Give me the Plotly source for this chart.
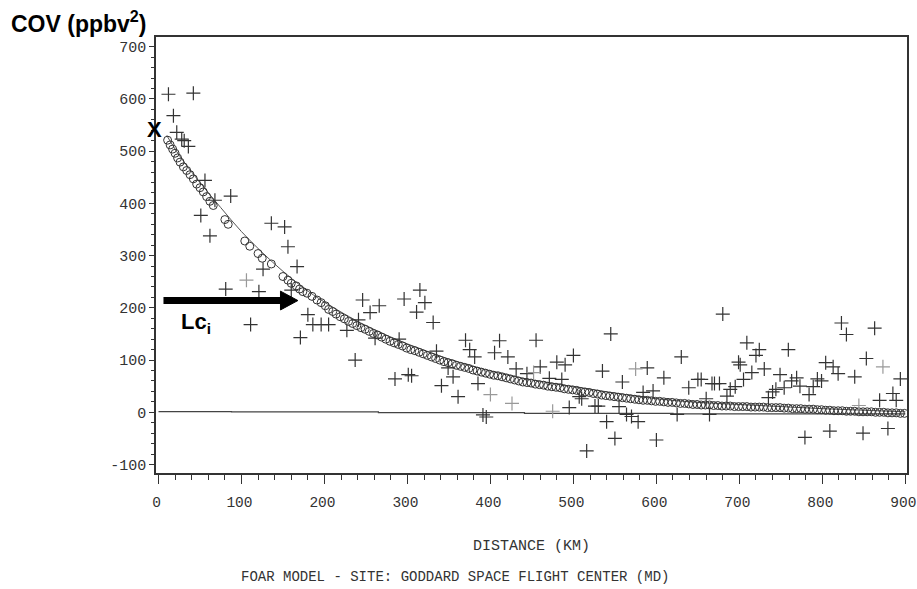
import plotly.graph_objects as go

# ---- observed covariance pairs (crosses) ----
obs_d = [12, 42, 18, 22, 28, 31, 36, 56, 68, 87, 51, 62, 136, 152, 156, 167, 126, 81, 121, 160,
         180, 186, 196, 205, 111, 171, 227, 241,
         246, 255, 266, 237, 285, 296, 315, 321, 311, 331, 261, 290, 301, 305, 335, 349, 355, 341,
         361, 370, 375, 381, 385, 411, 405, 421, 431, 391, 395,
         455, 460, 444, 471, 480, 490, 500, 486, 507, 510, 495, 516, 535, 545, 559, 526, 530, 540,
         550, 555, 564, 570, 578,
         589, 584, 596, 600, 609, 630, 639, 650, 654, 667, 625, 664, 660,
         670, 676, 680, 685, 689, 695, 699, 701, 709, 724, 720, 730, 715, 705, 735, 740, 744, 754,
         749, 759, 763, 769, 773, 784, 789, 794, 799, 779, 804, 813, 819, 809, 823, 829, 839, 853,
         863, 849, 869, 879, 885, 889, 894]
obs_v = [609, 611, 568, 536, 523, 520, 509, 444, 406, 414, 377, 338, 362, 355, 317, 279, 274, 236, 231, 234,
         187, 168, 168, 168, 168, 143, 157, 177,
         215, 191, 204, 100, 64, 217, 234, 210, 192, 172, 142, 140, 72, 70, 117, 85, 68, 51,
         30, 138, 120, 106, 55, 137, 114, 106, 83, -5, -9,
         138, 87, 74, 65, 96, 91, 109, 63, 30, 26, 9, -74, 79, 150, 58, 12, 12, -18,
         -50, 11, -4, -8, -18,
         85, 38, 41, -53, 66, 106, 47, 63, 63, 55, -4, -4, 26,
         55, 55, 188, 31, 44, 49, 96, 91, 133, 120, 109, 83, 76, 63, 28, 39, 44, 47,
         72, 120, 60, 66, 50, 34, 49, 64, 60, -48, 95, 87, 74, -36, 171, 149, 68, 103,
         161, -40, 23, -31, 36, 23, 64]

# fainter crosses
faint_d = [106, 400, 426, 452, 475, 575, 873, 844]
faint_v = [253, 34, 17, 76, 2, 83, 87, 13]

# ---- model values (open circles) ----
model_d = [11, 14, 17, 20, 23, 26, 30, 34, 38, 42, 46, 50, 54, 58, 62, 66, 80, 84, 104, 110,
           120, 125, 136, 150, 156, 160, 166, 170, 174, 179, 185, 191, 196, 201, 205, 210, 214, 219,
           224, 229, 234, 239, 244, 249, 254, 259, 264, 269, 274, 279, 284, 289, 294, 299,
           304, 309, 314, 319, 324, 329, 334, 339, 344, 349, 354, 359, 364, 369, 374, 379,
           384, 389, 394, 399, 404, 409, 414, 419, 424, 429, 434, 439, 444, 449, 454, 459,
           464, 469, 474, 479, 484, 489, 494, 499, 504, 509, 514, 519, 524, 529, 534, 539,
           544, 549, 554, 559, 564, 569, 574, 579, 584, 589, 594, 599, 604, 609, 614, 619,
           624, 629, 634, 639, 644, 649, 654, 659, 664, 669, 674, 679, 684, 689, 694, 699,
           704, 709, 714, 719, 724, 729, 734, 739, 744, 749, 754, 759, 764, 769, 774, 779,
           784, 789, 794, 799, 804, 809, 814, 819, 824, 829, 834, 839, 844, 849, 854, 859,
           864, 869, 874, 879, 884, 889, 894, 899]
model_v = [521, 512, 504, 496, 487, 479, 470, 463, 455, 447, 437, 430, 422, 413, 404, 396, 369, 360, 328, 318,
           304, 295, 284, 260, 253, 247, 242, 236, 231, 228, 222, 215, 210, 204, 197, 193, 188, 183,
           179, 174, 170, 166, 162, 159, 155, 151, 148, 144, 140, 136, 133, 130, 127, 123,
           120, 118, 115, 112, 109, 106, 103, 100, 97, 95, 93, 90, 88, 86, 84, 81,
           79, 77, 75, 73, 71, 70, 68, 66, 64, 62, 60, 58, 57, 56, 54, 53,
           52, 50, 49, 48, 47, 45, 44, 43, 42, 40, 39, 38, 36, 35, 33, 32,
           31, 30, 29, 28, 27, 26, 25, 24, 23, 23, 22, 21, 21, 20, 19, 19,
           18, 17, 17, 16, 15, 15, 14, 14, 14, 13, 13, 12, 12, 12, 11, 11,
           11, 11, 10, 10, 10, 10, 9, 9, 9, 9, 8, 8, 7, 7, 7, 6,
           6, 6, 5, 5, 4, 4, 3, 3, 3, 2, 2, 2, 1, 1, 1, 1,
           0, 0, 0, -1, -1, -1, -2, -2]

# ---- fitted curve ----
fit_d = [10, 25, 50, 75, 100, 125, 150, 175, 200, 250, 300, 350, 400, 450, 500, 550, 600, 650, 700, 750, 800, 850, 900]
fit_v = [530, 492, 440, 392, 346, 306, 270, 238, 211, 166, 131, 102, 79, 62, 49, 37, 26, 19, 15, 11, 7, 4, 1]

# ---- near-zero reference line ----
zero_d = [0, 88, 265, 441, 620, 900]
zero_v = [1.5, 1, -0.5, -2, -3, -3]

# ---- axis ticks ----
x_ticks = [0, 100, 200, 300, 400, 500, 600, 700, 800, 900]
x_labels = ["0", "100", "200", "300", "400", "500", "600", "700", "800", "900"]
y_ticks = [-100, 0, 100, 200, 300, 400, 500, 600, 700]
y_labels = ["-100", "0", "100", "200", "300", "400", "500", "600", "700"]

INK = "#333333"
MONO = "Liberation Mono"

fig = go.Figure()
fig.add_trace(go.Scatter(x=zero_d, y=zero_v, mode="lines", line=dict(color="#444444", width=1.2, shape="hv"),
                         showlegend=False, hoverinfo="skip"))
fig.add_trace(go.Scatter(x=fit_d, y=fit_v, mode="lines", line=dict(color="#555555", width=1, shape="spline"),
                         showlegend=False))
fig.add_trace(go.Scatter(x=model_d, y=model_v, mode="markers",
                         marker=dict(symbol="circle-open", size=8, color=INK, line=dict(width=1, color=INK)),
                         showlegend=False))
fig.add_trace(go.Scatter(x=obs_d, y=obs_v, mode="markers",
                         marker=dict(symbol="cross-thin", size=10, color=INK, line=dict(width=1.2, color=INK)),
                         showlegend=False))
fig.add_trace(go.Scatter(x=faint_d, y=faint_v, mode="markers",
                         marker=dict(symbol="cross-thin", size=10, color="#999999", line=dict(width=1.2, color="#999999")),
                         showlegend=False))

# arrow for Lc_i
fig.add_shape(type="line", xref="x", yref="y", x0=6, y0=214, x1=150, y1=214,
              line=dict(color="black", width=7))
fig.add_shape(type="path", xref="x", yref="y", path="M 147,196 L 168,214 L 147,232 Z",
              fillcolor="black", line=dict(color="black", width=1))

ax_common = dict(showline=True, linecolor=INK, linewidth=1.5, mirror=True, showgrid=False, zeroline=False,
                 automargin=False, ticklabeloverflow="allow",
                 ticks="outside", tickcolor=INK)

fig.update_xaxes(range=[-3, 902], tickvals=x_ticks, ticktext=x_labels, ticklen=9, tickwidth=1.2,
                 ticklabelstandoff=6, ticklabelshift=-2,
                 tickfont=dict(family=MONO, size=14.5, color=INK),
                 minor=dict(dtick=20, tick0=0, ticks="outside", ticklen=5, tickcolor=INK, tickwidth=1.2),
                 **ax_common)
fig.update_yaxes(range=[-116.2, 718.6], tickvals=y_ticks, ticktext=y_labels, ticklen=5, tickwidth=1.2,
                 tickfont=dict(family=MONO, size=15, color=INK),
                 minor=dict(dtick=20, tick0=0, ticks="outside", ticklen=3, tickcolor=INK, tickwidth=1.2),
                 **ax_common)

fig.add_annotation(text="<b>COV (ppbv<sup>2</sup>)</b>", xref="paper", yref="paper", x=-0.1957, y=1.034,
                   xanchor="left", yanchor="middle", showarrow=False,
                   font=dict(family="Liberation Sans", size=23, color="black"))
fig.add_annotation(text="<b>X</b>", xref="paper", yref="paper", x=-0.002, y=0.7867,
                   xanchor="center", yanchor="middle", showarrow=False,
                   font=dict(family="Liberation Sans", size=22, color="black"))
fig.add_annotation(text="<b>Lc<sub>i</sub></b>", xref="paper", yref="paper", x=0.031, y=0.345,
                   xanchor="left", yanchor="middle", showarrow=False,
                   font=dict(family="Liberation Sans", size=22, color="black"))
fig.add_annotation(text="DISTANCE (KM)", xref="paper", yref="paper", x=0.5, y=-0.1697,
                   xanchor="center", yanchor="middle", showarrow=False,
                   font=dict(family=MONO, size=15, color=INK))
fig.add_annotation(text="FOAR MODEL - SITE: GODDARD SPACE FLIGHT CENTER (MD)", xref="paper", yref="paper",
                   x=0.3988, y=-0.2385, xanchor="center", yanchor="middle", showarrow=False,
                   font=dict(family=MONO, size=14, color=INK))

fig.update_layout(width=917, height=589, margin=dict(l=156, r=10, t=37, b=116),
                  plot_bgcolor="white", paper_bgcolor="white")

# remove the default page margin so the 917x589 figure fills the window exactly
fig.write_html("out.html", config={"displayModeBar": False},
               post_script="document.body.style.margin='0';document.body.style.overflow='hidden';")
